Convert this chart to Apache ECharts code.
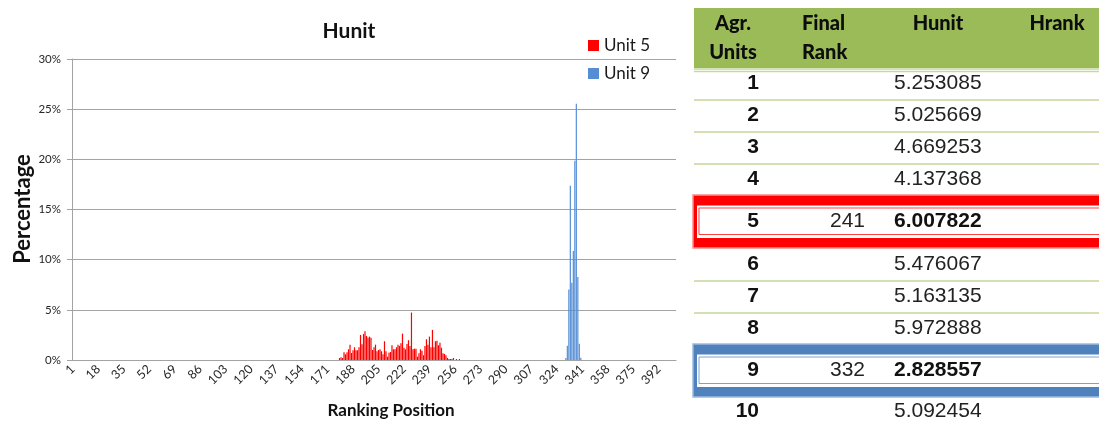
<!DOCTYPE html>
<html>
<head>
<meta charset="utf-8">
<script src="https://cdn.jsdelivr.net/npm/echarts@6/dist/echarts.min.js"></script>
<style>
  html, body { margin: 0; padding: 0; background: #fff; }
  #chart { width: 1099px; height: 423px; }
</style>
</head>
<body>
<div id="chart"></div>
<script>
// x axis: ranking positions 1..403
var rankCount = 403
var rankLabels = []
for (var r = 1; r <= rankCount; r++) rankLabels.push(String(r))

// percentage of runs at each ranking position
var unit5FirstRank = 179
var unit5Values = [
  0.2, 0.27, 0.2, 0.77, 0.57, 0.77, 1.07, 1.53, 0.7, 0.97,
  1.27, 0.97, 0.97, 1.27, 2.5, 1.57, 2.6, 2.87, 2.4, 2.23,
  2.33, 2.23, 1.0, 1.27, 1.53, 0.87, 1.0, 1.07, 0.87, 0.57,
  1.87, 0.87, 0.33, 0.73, 0.8, 1.47, 1.07, 1.07, 1.27, 1.53,
  1.4, 1.67, 2.63, 1.23, 1.07, 1.6, 1.97, 1.4, 4.73, 1.07,
  1.13, 1.13, 0.33, 0.67, 1.07, 0.93, 0.47, 1.4, 2.07, 1.53,
  2.33, 1.27, 3.0, 1.27, 1.87, 1.93, 1.47, 1.73, 1.23, 0.67,
  0.6, 0.47, 0.2, 0.1, 0.1, 0.1, 0.2, 0, 0.1, 0, 0.1
]
var unit9FirstRank = 330
var unit9Values = [0.2, 1.43, 7.03, 17.37, 7.7, 10.87, 19.87, 25.53, 8.27, 1.63, 0.23]

var yMax = 30
var yStep = 5

// table on the right
var tableHeaders = [['Agr.', 'Units'], ['Final', 'Rank'], ['Hunit'], ['Hrank']]
var aggUnits = [1, 2, 3, 4, 5, 6, 7, 8, 9, 10]
var finalRanks = ['', '', '', '', '241', '', '', '', '332', '']
var hunitValues = ['5.253085', '5.025669', '4.669253', '4.137368', '6.007822',
  '5.476067', '5.163135', '5.972888', '2.828557', '5.092454']
var boxedUnits = { 5: 'red', 9: 'blue' }

var boxStyles = {
  red: { solid: '#FF0000', light: '#FF8C8C', thin: '#FF4040' },
  blue: { solid: '#4F81BD', light: '#9DB9DD', thin: '#7EA0CE' }
}

function toPairs (first, values) {
  return values.map(function (v, i) { return [first - 1 + i, v] })
}

function buildTable () {
  var els = []
  var left = 694
  var w = 1099 - left
  var numFont = '"Liberation Sans", Arial'
  els.push({ type: 'rect', shape: { x: left, y: 8, width: w, height: 60 }, style: { fill: '#9BBB59' } })
  els.push({ type: 'line', shape: { x1: left, y1: 69, x2: 1099, y2: 69 }, style: { stroke: '#C6D9A0', lineWidth: 1.5 } })
  els.push({ type: 'line', shape: { x1: left, y1: 71.5, x2: 1099, y2: 71.5 }, style: { stroke: '#C6D9A0', lineWidth: 1.5 } })

  var hdrX = [733, 802, 938, 1057]
  var hdrAlign = ['center', 'left', 'center', 'center']
  tableHeaders.forEach(function (lines, c) {
    lines.forEach(function (t, k) {
      els.push({
        type: 'text',
        style: {
          text: t, x: hdrX[c], y: 24 + k * 29,
          fontFamily: 'Lato', fontWeight: 900, fontSize: 20,
          fill: '#0d0d0d', textAlign: hdrAlign[c], textVerticalAlign: 'middle'
        }
      })
    })
  })

  var y = 68
  aggUnits.forEach(function (unit, i) {
    var box = boxedUnits[unit]
    var top, h, textY
    if (box) {
      top = y - 2
      h = 55
      textY = top + 27.5
      var st = boxStyles[box]
      els.push({ type: 'rect', shape: { x: 693, y: top + 1, width: 420, height: h - 2 }, style: { fill: st.solid, stroke: st.light, lineWidth: 1.5 } })
      els.push({ type: 'rect', shape: { x: 697, y: top + 11.5, width: 420, height: h - 22.5 }, style: { fill: '#ffffff' } })
      els.push({ type: 'rect', shape: { x: 699, y: top + 14, width: 420, height: h - 28.5 }, style: { fill: 'none', stroke: st.thin, lineWidth: 1 } })
    } else {
      top = y
      h = 32
      textY = top + 15.5
      var next = aggUnits[i + 1]
      if (next !== undefined && !boxedUnits[next]) {
        els.push({ type: 'line', shape: { x1: left, y1: top + h, x2: 1099, y2: top + h }, style: { stroke: '#C3D69B', lineWidth: 1.5 } })
      }
    }
    if (i === aggUnits.length - 1) textY -= 2
    els.push({ type: 'text', style: { text: String(unit), x: 759, y: textY, fontFamily: numFont, fontWeight: 'bold', fontSize: 21, fill: '#111', textAlign: 'right', textVerticalAlign: 'middle' } })
    if (finalRanks[i]) {
      els.push({ type: 'text', style: { text: finalRanks[i], x: 865, y: textY, fontFamily: numFont, fontSize: 21, fill: '#222', textAlign: 'right', textVerticalAlign: 'middle' } })
    }
    els.push({ type: 'text', style: { text: hunitValues[i], x: 894, y: textY, fontFamily: numFont, fontWeight: box ? 'bold' : 'normal', fontSize: 21, fill: box ? '#111' : '#222', textAlign: 'left', textVerticalAlign: 'middle' } })
    y = top + h
  })
  return els
}

var myChart = echarts.init(document.getElementById('chart'))
var gridColor = '#A3A3A3'
var option = {
  animation: false,
  backgroundColor: '#ffffff',
  textStyle: { fontFamily: 'Lato' },
  grid: { left: 72, top: 59, right: 423, bottom: 63, containLabel: false, outerBoundsMode: 'none' },
  legend: {
    data: ['Unit 5', 'Unit 9'],
    orient: 'vertical',
    left: 588,
    top: 37,
    padding: 0,
    itemWidth: 11,
    itemHeight: 11,
    itemGap: 11,
    icon: 'rect',
    textStyle: { fontSize: 17, color: '#1a1a1a', fontFamily: 'Lato' }
  },
  xAxis: {
    type: 'category',
    data: rankLabels,
    boundaryGap: true,
    axisLine: { show: true, lineStyle: { color: gridColor } },
    axisTick: { show: false },
    splitLine: { show: false },
    axisLabel: { interval: 16, rotate: 45, margin: 7, fontSize: 12.5, color: '#262626', fontFamily: 'Lato' }
  },
  yAxis: {
    type: 'value',
    min: 0,
    max: yMax,
    interval: yStep,
    axisLine: { show: true, lineStyle: { color: gridColor } },
    axisTick: { show: true, length: 5, lineStyle: { color: gridColor } },
    splitLine: { show: true, lineStyle: { color: gridColor } },
    axisLabel: { formatter: '{value}%', margin: 11, fontSize: 11.5, color: '#262626', fontFamily: 'Lato' }
  },
  series: [
    {
      name: 'Unit 5',
      type: 'bar',
      data: toPairs(unit5FirstRank, unit5Values),
      barWidth: 1.2,
      barGap: '-100%',
      itemStyle: { color: '#FF0000' }
    },
    {
      name: 'Unit 9',
      type: 'bar',
      data: toPairs(unit9FirstRank, unit9Values),
      barWidth: 1.2,
      barGap: '-100%',
      itemStyle: { color: '#558ED5' }
    }
  ],
  graphic: [
    { type: 'text', style: { text: 'Hunit', x: 349, y: 31, fontFamily: 'Lato', fontWeight: 'bold', fontSize: 21, fill: '#111', textAlign: 'center', textVerticalAlign: 'middle' } },
    { type: 'text', x: 23, y: 209, rotation: Math.PI / 2, style: { text: 'Percentage', x: 0, y: 0, fontFamily: 'Lato', fontWeight: 'bold', fontSize: 22, fill: '#111', textAlign: 'center', textVerticalAlign: 'middle' } },
    { type: 'text', style: { text: 'Ranking Position', x: 391, y: 411, fontFamily: 'Lato', fontWeight: 'bold', fontSize: 17, fill: '#111', textAlign: 'center', textVerticalAlign: 'middle' } }
  ].concat(buildTable())
}
myChart.setOption(option)
</script>
</body>
</html>
